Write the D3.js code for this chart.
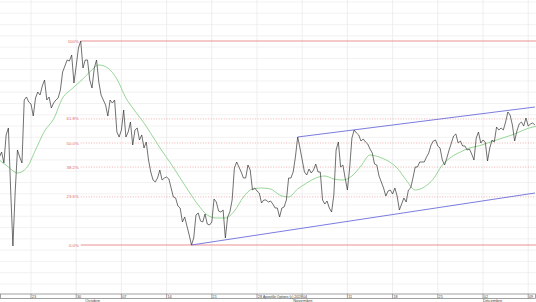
<!DOCTYPE html>
<html>
<head>
<meta charset="utf-8">
<script src="https://cdn.jsdelivr.net/npm/d3@7"></script>
<style>
  body { margin: 0; background: #fff; }
  svg { display: block; font-family: "Liberation Sans", Arial, sans-serif; }
</style>
</head>
<body>
<svg width="536" height="302"></svg>
<script>
// price, 4 bars per trading day, first bar 3.5 days before the first tick
const prices = [
  143,148,137,165,172,110,54,108,150,143,
  137,200,203,198,196,184,202,208,205,214,
  220,200,203,192,197,200,202,210,228,234,
  240,239,245,217,234,252,259,232,240,240,
  220,212,232,240,218,205,200,195,184,200,
  197,200,168,163,170,190,163,168,178,155,
  170,172,160,165,152,158,140,128,120,118,
  122,130,120,122,123,121,112,103,102,94,
  92,78,83,74,65,55,62,85,87,79,
  78,86,76,75,78,101,98,89,88,90,
  62,83,88,100,132,138,133,128,122,122,
  135,130,110,112,109,107,97,100,100,98,
  99,96,92,92,83,92,93,100,122,122,
  128,143,163,152,140,128,125,131,127,130,
  136,128,128,100,96,99,92,88,105,150,
  158,133,135,122,110,132,162,170,167,165,
  159,161,158,156,151,147,136,135,124,118,
  112,104,109,110,106,112,104,90,96,102,
  98,110,112,122,133,133,138,138,138,143,
  147,155,159,160,154,152,140,135,142,150,
  157,164,166,157,159,154,154,150,151,146,
  140,162,168,157,160,158,139,152,160,158,
  173,170,172,170,178,188,185,175,159,169,
  176,178,174,182,174,176,177,175
];

// moving average, one value per trading day
const movingAvg = [
  140,133,127,132,150,169,181,202,211,219,
  228,235,232,221,202,189,177,163,149,136,
  122,108,95,85,82,82,89,103,111,112,
  111,105,103,111,117,122,124,121,120,124,
  134,145,143,139,132,120,110,113,121,135,
  143,148,152,154,157,160,163,166,170,173,174
];

// fibonacci retracement between swing high (bar 36) and swing low (bar 85)
const fibHigh = { bar: 36, value: 259 };
const fibLow = { bar: 85, value: 55 };
const fibLevels = [1, 0.618, 0.5, 0.382, 0.236, 0];

// trend channel, [bar, value]
const channelUpper = [[132, 163], [237, 193]];
const channelLower = [[85, 55], [237, 107]];

// weekly ticks (trading day numbers) and labels
const tickDays = [0, 5, 10, 15, 20, 25, 30, 35, 40, 45, 50, 55];
const tickLabels = ["23", "30", "07", "14", "21", "28", "04", "11", "18", "25", "02", "09"];
const monthNames = ["Octobre", "Novembre", "Décembre"];
const monthDays = [6, 29, 50];

const W = 536;
const bandTop = 294;
const bandBottom = 298.5;

const svg = d3.select("svg");

const x = d3.scaleLinear().domain([0, 55]).range([31, 31 + 55 * 9.04]);
const y = d3.scaleLinear().domain([55, 259]).range([245, 41]);
const barDay = i => -3.5 + 0.25 * i;

// grid
const gridStep = 11.28;
const gridValues = d3.range(16, 300, gridStep);
svg.append("g")
  .selectAll("line")
  .data(gridValues)
  .join("line")
  .attr("x1", 0)
  .attr("x2", W)
  .attr("y1", d => y(d))
  .attr("y2", d => y(d))
  .attr("stroke", "#ededed")
  .attr("stroke-width", 0.7);

svg.append("g")
  .selectAll("line")
  .data(tickDays)
  .join("line")
  .attr("x1", d => x(d))
  .attr("x2", d => x(d))
  .attr("y1", 0)
  .attr("y2", bandTop)
  .attr("stroke", "#e8e8e8")
  .attr("stroke-width", 0.7);

// fibonacci lines
const fibGroup = svg.append("g");
const fibX = x(barDay(fibHigh.bar));
fibLevels.forEach(level => {
  const v = fibLow.value + (fibHigh.value - fibLow.value) * level;
  const solid = level === 0 || level === 1;
  fibGroup.append("line")
    .attr("x1", fibX)
    .attr("x2", W)
    .attr("y1", y(v))
    .attr("y2", y(v))
    .attr("stroke", solid ? "#e98686" : "#eba0a0")
    .attr("stroke-width", solid ? 0.9 : 0.8)
    .attr("stroke-dasharray", solid ? null : "1,1.6");
  fibGroup.append("text")
    .attr("x", fibX - 2)
    .attr("y", y(v) + 1.5)
    .attr("text-anchor", "end")
    .attr("font-size", 4.3)
    .attr("fill", "#e06666")
    .text(level === 1 ? "100%" : d3.format(".1f")(level * 100) + "%");
});

// channel
const chLine = d3.line().x(d => x(barDay(d[0]))).y(d => y(d[1]));
[channelUpper, channelLower].forEach(ch => {
  svg.append("path")
    .attr("d", chLine(ch))
    .attr("fill", "none")
    .attr("stroke", "#5a5ad8")
    .attr("stroke-width", 0.8);
});

// moving average
svg.append("path")
  .datum(movingAvg)
  .attr("fill", "none")
  .attr("stroke", "#6cc46c")
  .attr("stroke-width", 0.7)
  .attr("d", d3.line().x((d, i) => x(-3.5 + i)).y(d => y(d)).curve(d3.curveMonotoneX));

// price
svg.append("path")
  .datum(prices)
  .attr("fill", "none")
  .attr("stroke", "#333")
  .attr("stroke-width", 0.7)
  .attr("d", d3.line().x((d, i) => x(barDay(i))).y(d => y(d)));

// axis band
svg.append("rect")
  .attr("x", 0.5)
  .attr("y", bandTop)
  .attr("width", W - 1)
  .attr("height", bandBottom - bandTop)
  .attr("fill", "#fff")
  .attr("stroke", "#8a8a8a")
  .attr("stroke-width", 0.8);

const ticks = svg.append("g");
tickDays.forEach((d, i) => {
  ticks.append("line")
    .attr("x1", x(d))
    .attr("x2", x(d))
    .attr("y1", bandTop)
    .attr("y2", bandBottom)
    .attr("stroke", "#666")
    .attr("stroke-width", 0.6);
  ticks.append("text")
    .attr("x", x(d) + 0.8)
    .attr("y", bandBottom - 0.6)
    .attr("font-size", 3.8)
    .attr("fill", "#444")
    .text(tickLabels[i]);
});

monthNames.forEach((m, i) => {
  svg.append("text")
    .attr("x", x(monthDays[i]))
    .attr("y", 302)
    .attr("font-size", 4.2)
    .attr("fill", "#444")
    .text(m);
});

svg.append("text")
  .attr("x", 263)
  .attr("y", bandBottom - 0.7)
  .attr("font-size", 3.4)
  .attr("fill", "#333")
  .text("Apostille Options (c) 2019");
</script>
</body>
</html>
